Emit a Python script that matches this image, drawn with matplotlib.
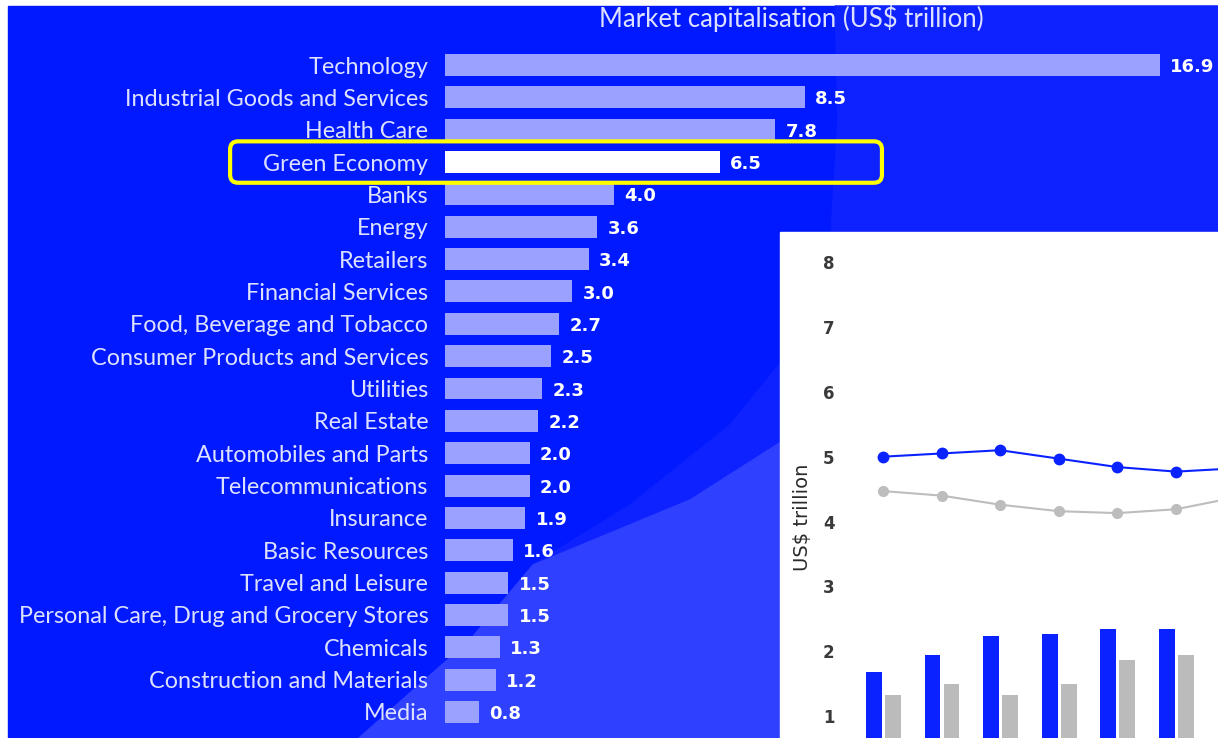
"""Sector market capitalisation bars with a partial inset of a line/bar chart."""
import matplotlib
matplotlib.use("Agg")
import matplotlib.pyplot as plt
from matplotlib.patches import Rectangle, Polygon, FancyBboxPatch

W, H = 1218, 738

# --- main chart data ---
sectors = [
    "Technology", "Industrial Goods and Services", "Health Care", "Green Economy",
    "Banks", "Energy", "Retailers", "Financial Services", "Food, Beverage and Tobacco",
    "Consumer Products and Services", "Utilities", "Real Estate", "Automobiles and Parts",
    "Telecommunications", "Insurance", "Basic Resources", "Travel and Leisure",
    "Personal Care, Drug and Grocery Stores", "Chemicals", "Construction and Materials",
    "Media",
]
market_cap = [16.9, 8.5, 7.8, 6.5, 4.0, 3.6, 3.4, 3.0, 2.7, 2.5, 2.3, 2.2, 2.0, 2.0,
              1.9, 1.6, 1.5, 1.5, 1.3, 1.2, 0.8]
highlight = "Green Economy"

# --- inset chart data (only partly visible) ---
inset_x = [0, 1, 2, 3, 4, 5, 6]
line_blue = [5.0, 5.05, 5.1, 4.97, 4.84, 4.77, 4.82]
line_gray = [4.47, 4.40, 4.26, 4.16, 4.13, 4.19, 4.37]
bars_blue = [1.68, 1.95, 2.24, 2.27, 2.34, 2.34, 2.20]
bars_gray = [1.33, 1.50, 1.33, 1.50, 1.86, 1.95, 1.90]
inset_yticks = [1, 2, 3, 4, 5, 6, 7, 8]

BLUE = "#0019ff"
BLUE_MID = "#0d22ff"
BLUE_LIGHT = "#2f40ff"
BAR = "#9ba1ff"
LABEL = "#dde1ff"


def fx(px):
    return px / W


def fy(py):
    return 1 - py / H


fig = plt.figure(figsize=(W / 100, H / 100), dpi=100)
fig.patch.set_facecolor("white")

# background panel and decorative lighter shapes
fig.patches.append(Rectangle((fx(8), 0), 1 - fx(8), fy(6), transform=fig.transFigure,
                             color=BLUE, zorder=-3))
mid_shape = [(835, 6), (838, 120), (830, 250), (795, 345), (730, 425), (630, 505),
             (533, 565), (470, 640), (359, 738), (1218, 738), (1218, 6)]
fig.patches.append(Polygon([(fx(x), fy(y)) for x, y in mid_shape], closed=True,
                           transform=fig.transFigure, color=BLUE_MID, zorder=-2))
light_shape = [(800, 430), (690, 500), (533, 565), (470, 640), (359, 738),
               (1218, 738), (1218, 430)]
fig.patches.append(Polygon([(fx(x), fy(y)) for x, y in light_shape], closed=True,
                           transform=fig.transFigure, color=BLUE_LIGHT, zorder=-1))

# --- main horizontal bar chart ---
row_top, row_bottom, row_step = 65, 712, 32.35
ax = fig.add_axes([fx(445), fy(row_bottom + row_step / 2), (W - 445) / W,
                   (row_bottom - row_top + row_step) / H])
ax.set_facecolor("none")
ypos = list(range(len(sectors)))
colors = ["white" if s == highlight else BAR for s in sectors]
ax.barh(ypos, market_cap, height=0.68, color=colors)
ax.set_xlim(0, (W - 445) / 42.3)
ax.set_ylim(len(sectors) - 0.5, -0.5)
ax.set_yticks(ypos)
ax.set_yticklabels(sectors, fontsize=16.8, color=LABEL, family="Lato")
ax.tick_params(axis="y", length=0, pad=12)
ax.set_xticks([])
for sp in ax.spines.values():
    sp.set_visible(False)
for i, v in enumerate(market_cap):
    ax.annotate(f"{v:.1f}", (v, i), xytext=(7.5, -1.5), textcoords="offset points",
                ha="left", va="center", fontsize=13, fontweight="bold", color="white")

fig.text(fx(791), fy(18), "Market capitalisation (US$ trillion)", ha="center", va="center",
         fontsize=18.5, color=LABEL, family="Lato")

# yellow highlight frame around the highlighted row
hi = sectors.index(highlight)
x0, y0 = ax.transData.transform((-5.08, hi + 0.64))
x1, y1 = ax.transData.transform((10.33, hi - 0.64))
dpi = fig.dpi
fig.patches.append(FancyBboxPatch((x0 / dpi, y0 / dpi), (x1 - x0) / dpi, (y1 - y0) / dpi,
                                  boxstyle="round,pad=0,rounding_size=0.08",
                                  transform=fig.dpi_scale_trans, fill=False,
                                  edgecolor="#ffff00", linewidth=3, zorder=5))

# --- inset panel (extends past the figure edge) ---
fig.patches.append(Rectangle((fx(780), 0), 1 - fx(780), fy(232), transform=fig.transFigure,
                             color="white", zorder=1))
ax2 = fig.add_axes([fx(850), fy(781), 450 / W, (781 - 232) / H], zorder=2)
ax2.set_facecolor("white")
step = 58.6
ax2.set_xlim((850 - 883) / step, (1300 - 883) / step)
ax2.set_ylim(0, (781 - 232) / 64.86)
ax2.bar([x - 0.155 for x in inset_x], bars_blue, width=0.27, color="#0a22ff")
ax2.bar([x + 0.17 for x in inset_x], bars_gray, width=0.27, color="#bbbbbb")
ax2.plot(inset_x, line_gray, color="#bdbdbd", lw=1.5, marker="o", ms=7, zorder=3)
ax2.plot(inset_x, line_blue, color="#0a22ff", lw=1.5, marker="o", ms=7.5, zorder=4)
ax2.set_yticks(inset_yticks)
ax2.set_yticklabels([str(t) for t in inset_yticks], fontsize=12, color="#3a3a3a",
                    fontweight="semibold")
ax2.tick_params(axis="y", length=0, pad=11)
ax2.set_xticks([])
for sp in ax2.spines.values():
    sp.set_visible(False)
ax2.set_ylabel("US$ trillion", fontsize=14, color="#2a2a2a")
ax2.yaxis.set_label_coords(-0.084, 0.481)

fig.savefig("out.png", dpi=100, facecolor=fig.get_facecolor())
